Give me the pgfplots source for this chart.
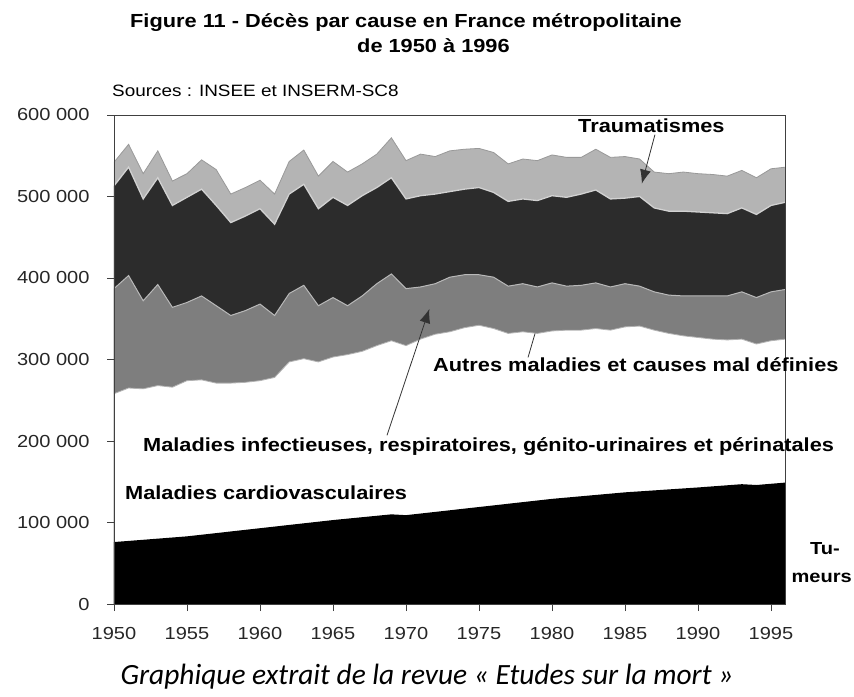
\documentclass[border=0pt]{standalone}
\usepackage{pgfplots}
\pgfplotsset{compat=1.18}
\usepackage{pgfplotstable}
\usepackage{fontspec}
\setmainfont{Liberation Sans}[FakeStretch=1.15]
\newfontfamily\capfont{Carlito}
\usetikzlibrary{arrows.meta}

% cumulative boundaries (top of each layer)
% A = Traumatismes top, B = Autres maladies top, C = Mal. infectieuses top, D = cardiovasculaires top
\pgfplotstableread{
year A B C D
1950 542000 513000 387000 258000
1951 564000 536000 403000 265000
1952 528000 497000 372000 264000
1953 556000 523000 392000 268000
1954 519000 489000 364000 266000
1955 528000 499000 370000 274000
1956 545000 509000 378000 275000
1957 533000 489000 366000 271000
1958 503000 468000 354000 271000
1959 511000 476000 360000 272000
1960 520000 485000 368000 274000
1961 503000 466000 354000 278000
1962 543000 503000 381000 297000
1963 557000 515000 391000 301000
1964 525000 485000 366000 297000
1965 543000 499000 376000 303000
1966 530000 489000 366000 306000
1967 540000 501000 378000 310000
1968 552000 511000 393000 317000
1969 572000 523000 405000 323000
1970 544000 497000 387000 317000
1971 552000 501000 389000 325000
1972 549000 503000 393000 331000
1973 556000 506000 401000 334000
1974 558000 509000 404000 339000
1975 559000 511000 404000 342000
1976 554000 505000 401000 338000
1977 540000 494000 390000 332000
1978 546000 497000 393000 334000
1979 544000 495000 389000 332000
1980 551000 501000 394000 335000
1981 548000 499000 390000 336000
1982 548000 503000 391000 336000
1983 558000 508000 394000 338000
1984 548000 497000 389000 336000
1985 549000 498000 393000 340000
1986 546000 500000 390000 341000
1987 530000 486000 383000 336000
1988 528000 482000 379000 332000
1989 530000 482000 378000 329000
1990 528000 481000 378000 327000
1991 527000 480000 378000 325000
1992 525000 479000 378000 324000
1993 532000 486000 383000 325000
1994 523000 478000 376000 319000
1995 534000 489000 383000 323000
1996 536000 493000 386000 325000
}\layers

\pgfplotstableread{
year E
1950 76000
1955 83000
1960 93000
1965 103000
1969 110000
1970 109000
1975 119000
1980 129000
1985 137000
1990 143000
1993 147000
1994 146000
1996 149000
}\tumeurs

\definecolor{trauma}{HTML}{B4B4B4}
\definecolor{autres}{HTML}{2C2C2C}
\definecolor{infect}{HTML}{7E7E7E}

\begin{document}
\begin{tikzpicture}
\useasboundingbox (-114bp,-93bp) rectangle (740bp,604bp);
\begin{axis}[
  at={(0,0)}, anchor=south west,
  scale only axis, width=671.6bp, height=489bp,
  xmin=1950, xmax=1996, ymin=0, ymax=600000,
  axis on top,
  axis line style={draw=black!75, line width=0.9bp},
  tick align=outside, xtick pos=bottom, ytick pos=left,
  major tick length=7bp,
  tick style={black!75, line width=0.9bp},
  scaled y ticks=false, scaled x ticks=false,
  xtick={1950,1955,1960,1965,1970,1975,1980,1985,1990,1995},
  xticklabels={1950,1955,1960,1965,1970,1975,1980,1985,1990,1995},
  ytick={0,100000,200000,300000,400000,500000,600000},
  yticklabels={0,100 000,200 000,300 000,400 000,500 000,600 000},
  tick label style={font=\fontsize{17.5}{20}\selectfont, text=black!85},
  yticklabel style={xshift=-14bp},
  xticklabel style={yshift=-13bp},
]
\addplot[fill=trauma, draw=none] table[x=year,y=A] {\layers} \closedcycle;
\addplot[fill=autres, draw=none] table[x=year,y=B] {\layers} \closedcycle;
\addplot[fill=infect, draw=none] table[x=year,y=C] {\layers} \closedcycle;
\addplot[fill=white, draw=none] table[x=year,y=D] {\layers} \closedcycle;
\addplot[fill=black, draw=none] table[x=year,y=E] {\tumeurs} \closedcycle;
\addplot[draw=gray!80, line width=0.8bp, mark=none] table[x=year,y=A] {\layers};
\addplot[draw=gray!35, line width=1.3bp, mark=none] table[x=year,y=B] {\layers};
\addplot[draw=gray!55, line width=1bp, mark=none] table[x=year,y=C] {\layers};
\addplot[draw=gray!60, line width=0.8bp, mark=none] table[x=year,y=D] {\layers};
% annotation pointers
\draw[black!80, line width=0.8bp, -{Latex[length=14bp,width=11bp]}] (axis cs:1987.05,575800) -- (axis cs:1986.15,515700);
\draw[black!80, line width=0.8bp, -{Latex[length=14bp,width=11bp]}] (axis cs:1968.7,207000) -- (axis cs:1971.6,362000);
\draw[black!80, line width=0.8bp] (axis cs:1978.36,302600) -- (axis cs:1978.84,332000);
\end{axis}
% titles
\node[anchor=base west, inner sep=0, font=\fontsize{19}{22}\selectfont\bfseries] at (16bp,576bp) {Figure 11 - Décès par cause en France métropolitaine};
\node[anchor=base west, inner sep=0, font=\fontsize{19}{22}\selectfont\bfseries] at (243bp,551bp) {de 1950 à 1996};
\node[anchor=base west, inner sep=0, font=\fontsize{16.5}{19}\selectfont] at (-2bp,507bp) {Sources : INSEE et INSERM-SC8};
% labels
\begin{scope}[every node/.style={anchor=base west, inner sep=0, font=\fontsize{19}{22}\selectfont\bfseries}]
\node at (464bp,471bp) {Traumatismes};
\node at (319bp,232bp) {Autres maladies et causes mal définies};
\node at (29bp,152bp) {Maladies infectieuses, respiratoires, génito-urinaires et périnatales};
\node at (11bp,104bp) {Maladies cardiovasculaires};
\node[anchor=base east, font=\fontsize{17.5}{20}\selectfont\bfseries] at (726bp,49bp) {Tu-};
\node[anchor=base east, font=\fontsize{17.5}{20}\selectfont\bfseries] at (738bp,22bp) {meurs};
\end{scope}
\node[anchor=base, inner sep=0, font=\capfont\itshape\fontsize{29.5}{32}\selectfont] at (313bp,-80bp) {Graphique extrait de la revue « Etudes sur la mort »};
\end{tikzpicture}
\end{document}
